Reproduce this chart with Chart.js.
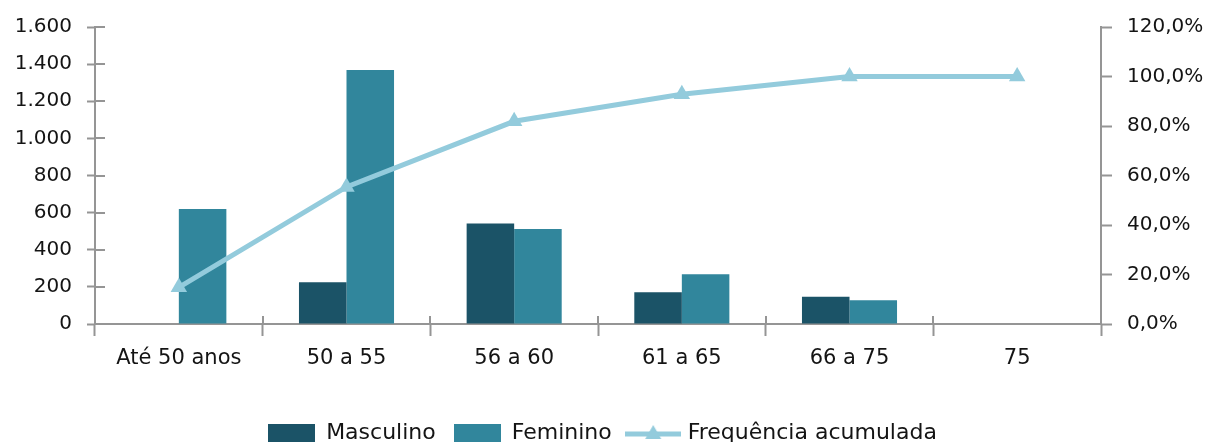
<!DOCTYPE html>
<html lang="pt-BR">
<head>
<meta charset="utf-8">
<title>Distribuição por faixa etária</title>
<script src="https://cdn.jsdelivr.net/npm/chart.js@4.4.1/dist/chart.umd.min.js"></script>
<style>
  html, body { margin: 0; padding: 0; background: #ffffff; overflow: hidden; }
  #wrap { position: relative; width: 1205px; height: 454px; }
</style>
</head>
<body>
<div id="wrap"><canvas id="chart" width="1205" height="454"></canvas></div>
<script>
// Faixas etárias
const categories = ['Até 50 anos', '50 a 55', '56 a 60', '61 a 65', '66 a 75', '75'];
// Quantidades por sexo
const masculino = [null, 225, 542, 171, 147, null];
const feminino = [620, 1368, 512, 268, 128, null];
// Frequência acumulada (%)
const freqAcumulada = [14.8, 55.4, 81.9, 92.8, 100, 100];

// Escalas
const countTicks = { min: 0, max: 1600, step: 200 };
const pctTicks = { min: 0, max: 120, step: 20 };

const COR_MASC = '#1b5367';
const COR_FEM = '#31869c';
const COR_LINHA = '#93cbdc';
const COR_EIXO = '#959595';
const COR_TEXTO = '#141414';
const FONTE = "'DejaVu Sans', Verdana, sans-serif";

const fmtMilhar = v => String(v).replace(/\B(?=(\d{3})+(?!\d))/g, '.');
const fmtPct = v => v.toFixed(1).replace('.', ',') + '%';

// Amostras da legenda desenhadas em canvas próprios
function amostraBarra(cor) {
  const c = document.createElement('canvas');
  c.width = 47; c.height = 18;
  const g = c.getContext('2d');
  g.fillStyle = cor;
  g.fillRect(0, 0, 47, 18);
  return c;
}
function amostraLinha(cor) {
  const c = document.createElement('canvas');
  c.width = 56; c.height = 22;
  const g = c.getContext('2d');
  g.strokeStyle = cor;
  g.lineWidth = 5;
  g.beginPath(); g.moveTo(0, 12); g.lineTo(56, 12); g.stroke();
  g.fillStyle = cor;
  g.beginPath();
  g.moveTo(28, 3); g.lineTo(36, 17); g.lineTo(20, 17); g.closePath();
  g.fill();
  return c;
}
const ordemLegenda = ['Masculino', 'Feminino', 'Frequência acumulada'];
const estilosLegenda = [amostraBarra(COR_MASC), amostraBarra(COR_FEM), amostraLinha(COR_LINHA)];

// Parte interna das marcas de escala (cruzando o eixo)
const marcasInternas = {
  id: 'marcasInternas',
  afterDraw(chart) {
    const { ctx, chartArea, scales } = chart;
    ctx.save();
    ctx.strokeStyle = COR_EIXO;
    ctx.lineWidth = 2;
    const y = scales.y;
    y.ticks.forEach((t, i) => {
      const py = Math.round(y.getPixelForTick(i));
      ctx.beginPath();
      ctx.moveTo(chartArea.left, py);
      ctx.lineTo(chartArea.left + 10, py);
      ctx.stroke();
    });
    const x = scales.x;
    for (let i = 0; i <= x.ticks.length; i++) {
      const px = Math.round(x.getPixelForValue(i - 0.5));
      ctx.beginPath();
      ctx.moveTo(px, chartArea.bottom);
      ctx.lineTo(px, chartArea.bottom - 8);
      ctx.stroke();
    }
    ctx.restore();
  }
};

new Chart(document.getElementById('chart'), {
  data: {
    labels: categories,
    datasets: [
      {
        type: 'line',
        label: 'Frequência acumulada',
        data: freqAcumulada,
        yAxisID: 'y1',
        borderColor: COR_LINHA,
        backgroundColor: COR_LINHA,
        borderWidth: 5,
        tension: 0,
        pointStyle: 'triangle',
        pointRadius: 9.5,
        pointBorderWidth: 0,
        order: 0
      },
      {
        type: 'bar',
        label: 'Masculino',
        data: masculino,
        yAxisID: 'y',
        backgroundColor: COR_MASC,
        borderWidth: 0,
        categoryPercentage: 0.567,
        barPercentage: 1,
        order: 1
      },
      {
        type: 'bar',
        label: 'Feminino',
        data: feminino,
        yAxisID: 'y',
        backgroundColor: COR_FEM,
        borderWidth: 0,
        categoryPercentage: 0.567,
        barPercentage: 1,
        order: 2
      }
    ]
  },
  options: {
    responsive: false,
    animation: false,
    devicePixelRatio: 1,
    layout: { padding: { top: 27, left: 0, right: 0, bottom: 0 } },
    plugins: {
      tooltip: { enabled: false },
      legend: {
        position: 'bottom',
        labels: {
          color: COR_TEXTO,
          font: { family: FONTE, size: 22 },
          usePointStyle: true,
          pointStyleWidth: 47,
          padding: 18,
          sort: (a, b) => ordemLegenda.indexOf(a.text) - ordemLegenda.indexOf(b.text),
          generateLabels(chart) {
            const itens = Chart.defaults.plugins.legend.labels.generateLabels(chart);
            itens.forEach(it => {
              it.pointStyle = estilosLegenda[ordemLegenda.indexOf(it.text)];
            });
            return itens;
          }
        }
      }
    },
    scales: {
      x: {
        type: 'category',
        offset: true,
        grid: {
          display: true,
          offset: true,
          drawOnChartArea: false,
          drawTicks: true,
          tickLength: 12,
          tickWidth: 2,
          color: COR_EIXO
        },
        border: { display: true, color: COR_EIXO, width: 2 },
        ticks: {
          color: COR_TEXTO,
          font: { family: FONTE, size: 21 },
          padding: 10,
          maxRotation: 0,
          autoSkip: false
        },
        afterFit(scale) { scale.height = 80; }
      },
      y: {
        position: 'left',
        min: countTicks.min,
        max: countTicks.max,
        grid: {
          display: true,
          drawOnChartArea: false,
          drawTicks: true,
          tickLength: 8,
          tickWidth: 2,
          color: COR_EIXO
        },
        border: { display: true, color: COR_EIXO, width: 2 },
        ticks: {
          stepSize: countTicks.step,
          color: COR_TEXTO,
          font: { family: FONTE, size: 20 },
          padding: 15,
          callback: v => fmtMilhar(v)
        },
        afterFit(scale) { scale.width = 95; }
      },
      y1: {
        position: 'right',
        min: pctTicks.min,
        max: pctTicks.max,
        grid: {
          display: true,
          drawOnChartArea: false,
          drawTicks: true,
          tickLength: 11,
          tickWidth: 2,
          color: COR_EIXO
        },
        border: { display: true, color: COR_EIXO, width: 2 },
        ticks: {
          stepSize: pctTicks.step,
          color: COR_TEXTO,
          font: { family: FONTE, size: 20 },
          padding: 15,
          callback: v => fmtPct(v)
        },
        afterFit(scale) { scale.width = 104; }
      }
    }
  },
  plugins: [marcasInternas]
});
</script>
</body>
</html>
